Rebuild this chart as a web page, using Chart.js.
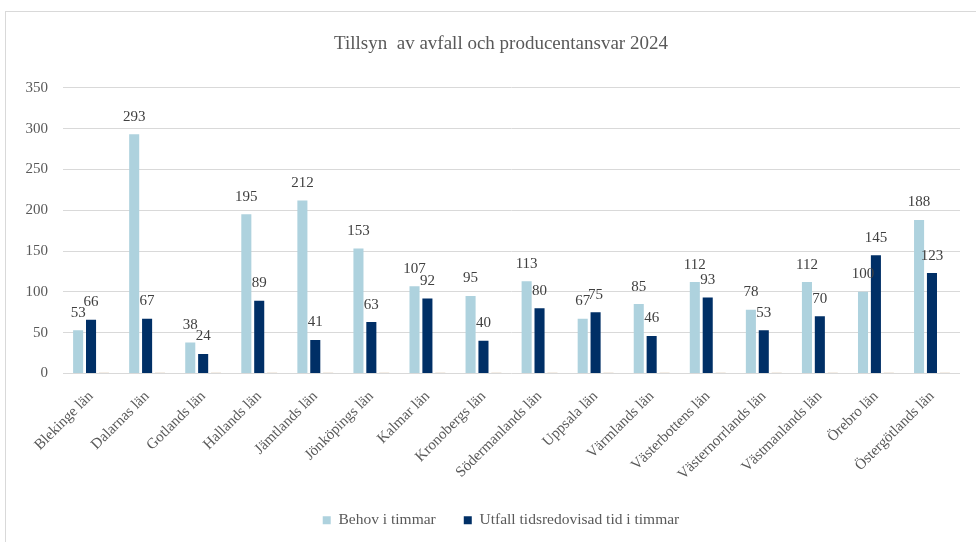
<!DOCTYPE html>
<html>
<head>
<meta charset="utf-8">
<script src="https://cdn.jsdelivr.net/npm/chart.js@4/dist/chart.umd.min.js"></script>
<style>
  body { margin: 0; background: #fff; overflow: hidden; }
  #frame { position: absolute; left: 5px; top: 11px; width: 1000px; height: 600px; border: 1px solid #d9d9d9; }
  #chart { position: absolute; left: 0; top: 0; }
</style>
</head>
<body>
<div id="frame"></div>
<canvas id="chart" width="976" height="542"></canvas>
<script>
// Län, timmar per län
var lan = ["Blekinge län", "Dalarnas län", "Gotlands län", "Hallands län", "Jämtlands län",
    "Jönköpings län", "Kalmar län", "Kronobergs län", "Södermanlands län", "Uppsala län",
    "Värmlands län", "Västerbottens län", "Västernorrlands län", "Västmanlands län",
    "Örebro län", "Östergötlands län"];
var behov = [53, 293, 38, 195, 212, 153, 107, 95, 113, 67, 85, 112, 78, 112, 100, 188];
var utfall = [66, 67, 24, 89, 41, 63, 92, 40, 80, 75, 46, 93, 53, 70, 145, 123];
var ovrigt = [1, 1, 1, 1, 1, 1, 1, 1, 1, 1, 1, 1, 1, 1, 1, 1];
var yMax = 350, yStep = 50;

var serif = "'Liberation Serif', 'Times New Roman', serif";
var grey = "#595959";

// skriver värdet ovanför varje stapel
var valueLabels = {
    id: "valueLabels",
    afterDatasetsDraw: function (chart) {
        var ctx = chart.ctx;
        ctx.save();
        ctx.font = "15px " + serif;
        ctx.fillStyle = "#404040";
        ctx.textAlign = "center";
        ctx.textBaseline = "bottom";
        chart.data.datasets.forEach(function (ds, i) {
            if (!ds.showValues) return;
            chart.getDatasetMeta(i).data.forEach(function (bar, j) {
                ctx.fillText(String(ds.data[j]), bar.x, bar.y - 10);
            });
        });
        ctx.restore();
    }
};

// centrera titel och förklaring över ritytan i stället för hela canvasen
var centerOnPlot = {
    id: "centerOnPlot",
    afterLayout: function (chart) {
        var shift = 21;
        [chart.legend, chart.titleBlock].forEach(function (box) {
            box.left += shift;
            box.right += shift;
        });
    }
};

new Chart(document.getElementById("chart"), {
    type: "bar",
    data: {
        labels: lan,
        datasets: [
            { label: "Behov i timmar", data: behov, backgroundColor: "#aed2de", showValues: true,
              categoryPercentage: 0.69, barPercentage: 0.78 },
            { label: "Utfall tidsredovisad tid i timmar", data: utfall, backgroundColor: "#002f66", showValues: true,
              categoryPercentage: 0.69, barPercentage: 0.78 },
            { label: "", data: ovrigt, backgroundColor: "#cdb99a", showValues: false,
              categoryPercentage: 0.69, barPercentage: 0.78 }
        ]
    },
    options: {
        responsive: false,
        animation: false,
        layout: { padding: { left: 0, right: 16, top: 8, bottom: 4 } },
        plugins: {
            title: {
                display: true,
                text: "Tillsyn  av avfall och producentansvar 2024",
                color: grey,
                font: { family: serif, size: 19, weight: "normal" },
                padding: { top: 25, bottom: 32 }
            },
            legend: {
                position: "bottom",
                labels: {
                    color: grey,
                    font: { family: serif, size: 15.5 },
                    boxWidth: 8,
                    boxHeight: 8,
                    padding: 28,
                    filter: function (item) { return item.text !== ""; }
                }
            },
            tooltip: { enabled: false }
        },
        scales: {
            x: {
                grid: { display: false },
                border: { display: false },
                ticks: {
                    color: grey,
                    font: { family: serif, size: 15 },
                    minRotation: 45,
                    maxRotation: 45,
                    padding: 6
                },
                afterFit: function (scale) { scale.height = 111; }
            },
            y: {
                min: 0,
                max: yMax,
                grid: { color: "#d9d9d9", drawTicks: false },
                border: { display: false },
                ticks: {
                    stepSize: yStep,
                    color: grey,
                    font: { family: serif, size: 15 },
                    padding: 15
                },
                afterFit: function (scale) { scale.width = 63; }
            }
        }
    },
    plugins: [valueLabels, centerOnPlot]
});
</script>
</body>
</html>
